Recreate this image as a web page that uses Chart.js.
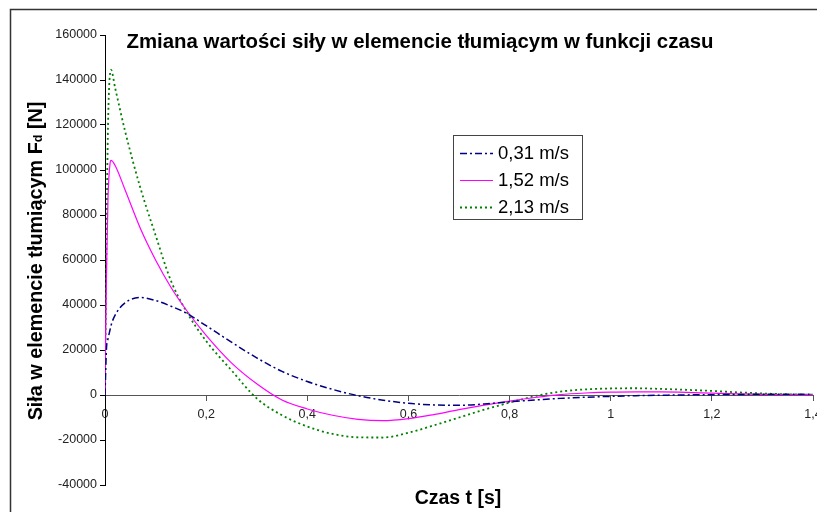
<!DOCTYPE html>
<html>
<head>
<meta charset="utf-8">
<script src="https://cdn.jsdelivr.net/npm/chart.js@4.4.1/dist/chart.umd.min.js"></script>
<style>
  html, body { margin: 0; padding: 0; background: #fff; }
</style>
</head>
<body>
<canvas id="chart" width="817" height="512"></canvas>
<script>
// czas t [s]
const czas = [0, 0.003, 0.006, 0.01, 0.012, 0.02, 0.04, 0.07, 0.1, 0.13, 0.16, 0.2, 0.25, 0.3, 0.35,
  0.4, 0.45, 0.5, 0.55, 0.6, 0.65, 0.7, 0.75, 0.8, 0.85, 0.9, 0.95, 1.0, 1.05, 1.1, 1.15, 1.2,
  1.25, 1.3, 1.35, 1.4]

// sila w elemencie tlumiacym [N]
const sila031 = [0, 21000, 25000, 29000, 31000, 35500, 41000, 43300, 42000, 39500, 36500, 30800, 23500,
  16500, 10500, 6000, 2500, -300, -2300, -3700, -4400, -4600, -4000, -3000, -2200, -1500, -1000,
  -600, -300, -100, 50, 150, 250, 300, 300, 300]
const sila152 = [0, 55000, 88000, 103000, 104300, 102000, 91000, 74000, 60000, 48000, 38000, 26500, 14300,
  5000, -2200, -6200, -9000, -10800, -11400, -10500, -8700, -6500, -4500, -2700, -1100, 200, 900,
  1300, 1400, 1400, 1200, 800, 500, 250, 100, 0]
const sila213 = [0, 70000, 120000, 143000, 144500, 136500, 117000, 92000, 71000, 51000, 37500, 24000, 11000,
  -1500, -9000, -14000, -17300, -18800, -18900, -16800, -13500, -10000, -6500, -3400, -500, 1500, 2500,
  2900, 3000, 2700, 2300, 1800, 1200, 700, 300, 100]

const etykiety = ['0,31 m/s', '1,52 m/s', '2,13 m/s']

const toPoints = vals => czas.map((t, i) => ({ x: t, y: vals[i] }))

const FONT = '"Liberation Sans", Arial, sans-serif'

// ramka, tytuly i legenda rysowane recznie
const rysunek = {
  id: 'rysunek',
  beforeDraw(chart) {
    const ctx = chart.ctx
    ctx.save()
    ctx.fillStyle = '#fff'
    ctx.fillRect(0, 0, chart.width, chart.height)
    ctx.strokeStyle = '#333'
    ctx.lineWidth = 1.5
    ctx.strokeRect(10.5, 9.5, 900, 600)
    ctx.restore()
  },
  afterDraw(chart) {
    const ctx = chart.ctx
    ctx.save()
    ctx.fillStyle = '#000'
    ctx.font = 'bold 20.4px ' + FONT
    ctx.textAlign = 'center'
    ctx.textBaseline = 'alphabetic'
    ctx.fillText('Zmiana wartości siły w elemencie tłumiącym w funkcji czasu', 420, 48)
    ctx.font = 'bold 19.5px ' + FONT
    ctx.fillText('Czas t [s]', 458, 504)

    // opis osi Y z indeksem dolnym
    const a = 'Siła w elemencie tłumiącym F', b = 'd', c = ' [N]'
    const big = 'bold 19.8px ' + FONT
    const small = 'bold 12.5px ' + FONT
    ctx.font = big
    const wa = ctx.measureText(a).width, wc = ctx.measureText(c).width
    ctx.font = small
    const wb = ctx.measureText(b).width
    const total = wa + wb + wc
    ctx.translate(42, 261)
    ctx.rotate(-Math.PI / 2)
    ctx.textAlign = 'left'
    let x = -total / 2
    ctx.font = big
    ctx.fillText(a, x, 0)
    x += wa
    ctx.font = small
    ctx.fillText(b, x, 0)
    x += wb
    ctx.font = big
    ctx.fillText(c, x, 0)
    ctx.setTransform(1, 0, 0, 1, 0, 0)

    // legenda
    ctx.fillStyle = '#fff'
    ctx.fillRect(453, 135, 129, 84)
    ctx.strokeStyle = '#444'
    ctx.lineWidth = 1
    ctx.strokeRect(453.5, 135.5, 129, 84)
    ctx.font = '18.5px ' + FONT
    ctx.textAlign = 'left'
    ctx.textBaseline = 'middle'
    chart.data.datasets.forEach((ds, i) => {
      const y = 153 + i * 27
      ctx.strokeStyle = ds.borderColor
      ctx.lineWidth = ds.borderWidth
      ctx.setLineDash(ds.borderDash || [])
      ctx.beginPath()
      ctx.moveTo(460, y + 0.5)
      ctx.lineTo(493, y + 0.5)
      ctx.stroke()
      ctx.setLineDash([])
      ctx.fillStyle = '#000'
      ctx.fillText(ds.label, 498, y + 1)
    })
    ctx.restore()
  }
}

const chart = new Chart(document.getElementById('chart'), {
  type: 'line',
  data: {
    datasets: [
      {
        label: etykiety[0],
        data: toPoints(sila031),
        borderColor: '#000080',
        borderWidth: 1.5,
        borderDash: [7, 3, 2, 3]
      },
      {
        label: etykiety[1],
        data: toPoints(sila152),
        borderColor: '#ff00ff',
        borderWidth: 1.2
      },
      {
        label: etykiety[2],
        data: toPoints(sila213),
        borderColor: '#008000',
        borderWidth: 1.8,
        borderDash: [2, 3]
      }
    ]
  },
  options: {
    responsive: false,
    devicePixelRatio: 1,
    animation: false,
    cubicInterpolationMode: 'monotone',
    elements: { point: { radius: 0 } },
    layout: { padding: { left: 0, right: 4, top: 35, bottom: 27 } },
    plugins: {
      legend: { display: false },
      tooltip: { enabled: false }
    },
    scales: {
      x: {
        type: 'linear',
        position: { y: 0 },
        min: 0,
        max: 1.4,
        afterFit: s => { s.paddingLeft = 0; s.paddingRight = 0 },
        border: { display: true, color: '#555', width: 1 },
        grid: { drawOnChartArea: false, drawTicks: true, tickLength: 5, color: '#555' },
        ticks: {
          stepSize: 0.2,
          padding: 7,
          color: '#222',
          font: { family: FONT, size: 12.5 },
          maxRotation: 0,
          callback: v => String(Math.round(v * 10) / 10).replace('.', ',')
        }
      },
      y: {
        min: -40000,
        max: 160000,
        afterFit: s => { s.width = 105; s.paddingTop = 0; s.paddingBottom = 0 },
        border: { display: true, color: '#000', width: 1 },
        grid: { drawOnChartArea: false, drawTicks: true, tickLength: 5, color: '#000' },
        ticks: {
          stepSize: 20000,
          padding: 3,
          color: '#222',
          font: { family: FONT, size: 12.5 },
          callback: v => String(v)
        }
      }
    }
  },
  plugins: [rysunek]
})
</script>
</body>
</html>
